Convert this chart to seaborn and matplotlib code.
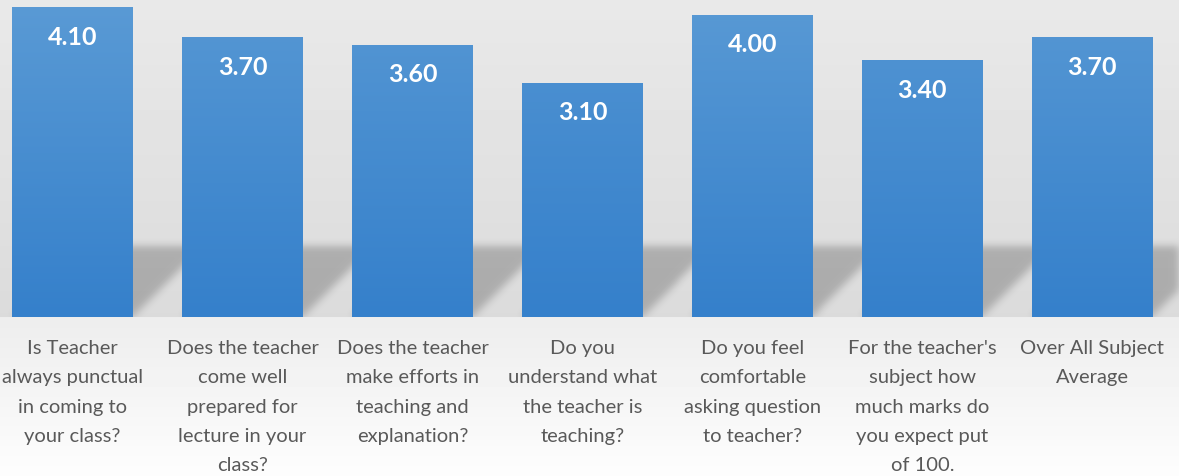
import numpy as np
import pandas as pd
import seaborn as sns
import matplotlib.pyplot as plt
from matplotlib.colors import LinearSegmentedColormap

# ========= data =========
questions = [
    "Is Teacher\nalways punctual\nin coming to\nyour class?",
    "Does the teacher\ncome well\nprepared for\nlecture in your\nclass?",
    "Does the teacher\nmake efforts in\nteaching and\nexplanation?",
    "Do you\nunderstand what\nthe teacher is\nteaching?",
    "Do you feel\ncomfortable\nasking question\nto teacher?",
    "For the teacher's\nsubject how\nmuch marks do\nyou expect put\nof 100.",
    "Over All Subject\nAverage",
]
scores = [4.10, 3.70, 3.60, 3.10, 4.00, 3.40, 3.70]
# ========================

df = pd.DataFrame({"question": questions, "score": scores})

sns.set_theme(style="white")
plt.rcParams["font.family"] = ["Lato", "DejaVu Sans"]

W, H = 1179, 477
fig = plt.figure(figsize=(W / 100, H / 100), dpi=100)

# background: light grey gradient, "floor" below the bars fading to white
bg = fig.add_axes([0, 0, 1, 1], zorder=0)
rows = np.zeros(H)
base_row = 318
rows[:base_row] = np.linspace(233, 219, base_row)
rows[base_row:] = np.linspace(237, 253, H - base_row)
bg.imshow(np.tile(rows[:, None], (1, 4)) / 255, cmap="gray", vmin=0, vmax=1,
          aspect="auto", extent=(0, 1, 0, 1), origin="upper")
bg.set_axis_off()

ax = fig.add_axes([0, (H - base_row) / H, 1, base_row / H], zorder=1)
ax.patch.set_alpha(0)

bar_w = 0.71
sns.barplot(data=df, x="question", y="score", ax=ax, width=bar_w,
            color="#4a8fd2", saturation=1, linewidth=0, zorder=3)

xlim = (-0.427, 6.51)
ylim = (0, 4.206)

# soft floor shadow behind each bar
sh_h, sh_dx = 0.93, 0.41
nx, ny = W, base_row
gx = np.linspace(xlim[0], xlim[1], nx)
gy = np.linspace(ylim[1], ylim[0], ny)
X, Y = np.meshgrid(gx, gy)
mask = np.zeros_like(X)
for i in range(len(scores)):
    off = sh_dx * Y / sh_h
    inside = (Y >= 0) & (Y <= sh_h) & (X >= i - bar_w / 2 + off) & (X <= i + bar_w / 2 + off)
    mask[inside] = 1.0
k = np.exp(-0.5 * (np.arange(-12, 13) / 4.0) ** 2)
k /= k.sum()
mask = np.apply_along_axis(lambda r: np.convolve(r, k, mode="same"), 1, mask)
mask = np.apply_along_axis(lambda c: np.convolve(c, k, mode="same"), 0, mask)
shadow = np.zeros((ny, nx, 4))
shadow[..., 3] = mask * 0.22
ax.imshow(shadow, extent=(*xlim, *ylim), aspect="auto", zorder=1, origin="upper")

# vertical gradient inside each bar
grad_cmap = LinearSegmentedColormap.from_list("bar", ["#3580cb", "#5b9bd5"])
for p in ax.patches:
    x0, y0 = p.get_x(), p.get_y()
    w, h = p.get_width(), p.get_height()
    top = y0 + h
    g = np.linspace(0, top / ylim[1], 200)[::-1, None]
    im = ax.imshow(g, cmap=grad_cmap, vmin=0, vmax=1, aspect="auto",
                   extent=(x0, x0 + w, 0, ylim[1]), origin="upper", zorder=4)
    im.set_clip_path(p)

for i, v in enumerate(scores):
    ax.annotate(f"{v:.2f}", xy=(i, v), xytext=(0, -21), textcoords="offset points",
                ha="center", va="center", color="white", fontsize=18,
                fontweight="bold", zorder=5)

ax.set_xlim(*xlim)
ax.set_ylim(*ylim)
ax.set_xlabel("")
ax.set_ylabel("")
ax.set_yticks([])
ax.tick_params(axis="x", length=0, pad=16)
ax.set_xticks(range(len(questions)))
ax.set_xticklabels(questions, fontsize=14.5, color="#595959", linespacing=1.87)
sns.despine(ax=ax, left=True, bottom=True)

fig.savefig("out.png", dpi=100)
